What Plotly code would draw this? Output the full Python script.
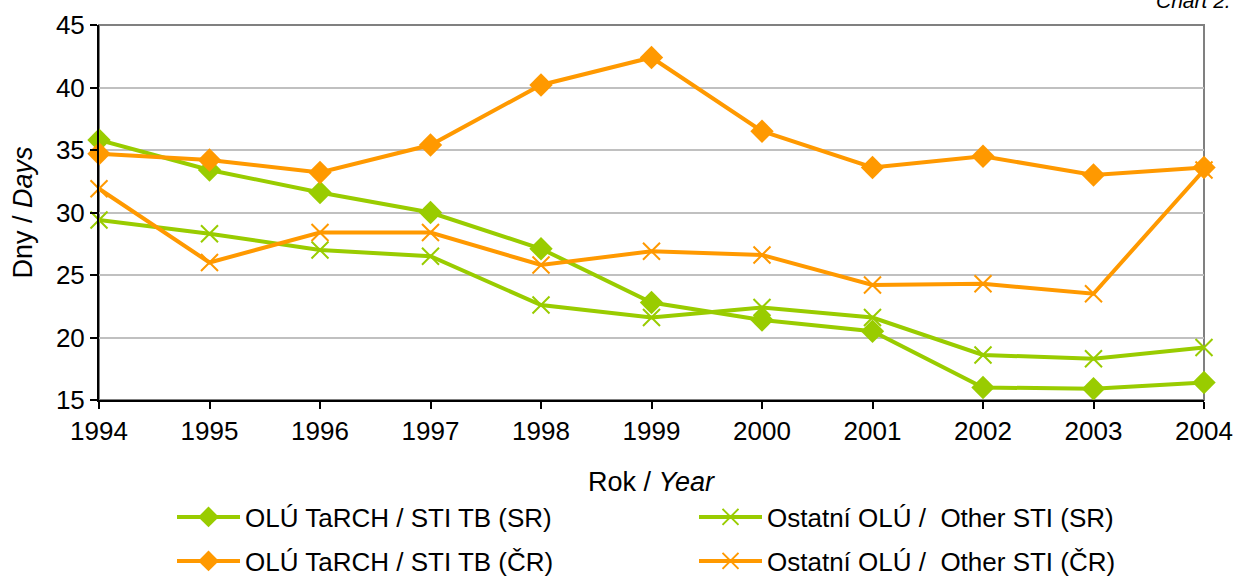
import plotly.graph_objects as go

years = [1994, 1995, 1996, 1997, 1998, 1999, 2000, 2001, 2002, 2003, 2004]
tarch_sr = [35.8, 33.4, 31.6, 30.0, 27.1, 22.8, 21.4, 20.5, 16.0, 15.9, 16.4]
other_sr = [29.4, 28.3, 27.0, 26.5, 22.6, 21.6, 22.4, 21.6, 18.6, 18.3, 19.2]
tarch_cr = [34.7, 34.2, 33.2, 35.4, 40.2, 42.4, 36.5, 33.6, 34.5, 33.0, 33.6]
other_cr = [31.9, 26.0, 28.4, 28.4, 25.8, 26.9, 26.6, 24.2, 24.3, 23.5, 33.4]

names = ["OLÚ TaRCH / STI TB (SR)", "Ostatní OLÚ /  Other STI (SR)",
         "OLÚ TaRCH / STI TB (ČR)", "Ostatní OLÚ /  Other STI (ČR)"]

GREEN = "#99CC00"
ORANGE = "#FF9900"
FONT = "Liberation Sans, Arial, sans-serif"
W, H = 1234, 576

fig = go.Figure()

def add(y, name, color, sym, legend):
    if sym == "diamond":
        marker = dict(symbol="diamond", size=18, color=color)
    else:
        marker = dict(symbol="x-thin-open", size=17, color=color,
                      line=dict(color=color, width=2))
    fig.add_trace(go.Scatter(x=years, y=y, name=name, mode="lines+markers",
                             line=dict(color=color, width=4), marker=marker,
                             legend=legend, cliponaxis=False))

add(tarch_sr, names[0], GREEN, "diamond", "legend2")
add(other_sr, names[1], GREEN, "x", "legend3")
add(tarch_cr, names[2], ORANGE, "diamond", "legend4")
add(other_cr, names[3], ORANGE, "x", "legend5")

def leg(xpx, ypx):
    return dict(orientation="h", xanchor="left", yanchor="middle",
                x=xpx / W, y=1 - ypx / H,
                font=dict(family=FONT, size=26, color="black"),
                bgcolor="rgba(0,0,0,0)", itemwidth=63,
                xref="container", yref="container")

fig.update_layout(
    width=W, height=H,
    paper_bgcolor="white", plot_bgcolor="white",
    margin=dict(l=99, r=30, t=25, b=176, autoexpand=False),
    font=dict(family=FONT, size=26, color="black"),
    showlegend=True,
    xaxis=dict(range=[1994, 2004], tickmode="array", tickvals=years,
               ticks="outside", ticklen=7, tickwidth=2, tickcolor="black",
               showline=True, linecolor="black", linewidth=2,
               showgrid=False, zeroline=False, automargin=False,
               tickfont=dict(size=26)),
    yaxis=dict(range=[15, 45], dtick=5, ticks="outside", ticklen=7,
               tickwidth=2, tickcolor="black",
               showline=True, linecolor="black", linewidth=2,
               showgrid=True, gridcolor="#C0C0C0", gridwidth=2,
               zeroline=False, automargin=False, tickfont=dict(size=26)),
    legend2=leg(172, 517),
    legend3=leg(694, 517),
    legend4=leg(172, 561),
    legend5=leg(694, 561),
    shapes=[dict(type="rect", xref="paper", yref="paper", x0=0, x1=1, y0=0, y1=1,
                 line=dict(color="#808080", width=2), layer="below")],
    annotations=[
        dict(text="<i>Chart 2.</i>", xref="paper", yref="paper",
             x=1.0, y=1.0, xanchor="right", yanchor="bottom",
             xshift=29, yshift=11, showarrow=False,
             font=dict(size=21, color="black")),
        dict(text="Rok / <i>Year</i>", xref="paper", yref="paper",
             x=0.5, y=0, xanchor="center", yanchor="middle",
             yshift=-82, showarrow=False, font=dict(size=27)),
        dict(text="Dny / <i>Days</i>", xref="paper", yref="paper",
             x=0, y=0.5, xanchor="center", yanchor="middle", textangle=-90,
             xshift=-77, showarrow=False, font=dict(size=27)),
    ],
)

fig.write_html("out.html", config={"displayModeBar": False},
               post_script="document.body.style.margin='0';document.body.style.overflow='hidden';")
